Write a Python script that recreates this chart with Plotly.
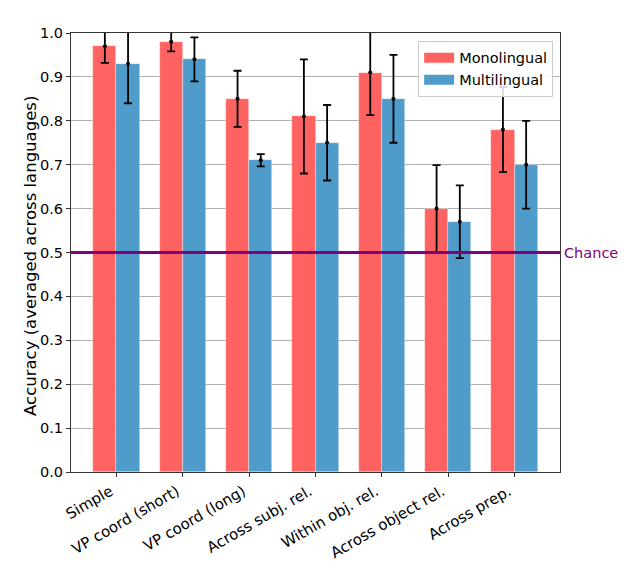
import plotly.graph_objects as go

categories = ["Simple", "VP coord (short)", "VP coord (long)", "Across subj. rel.",
              "Within obj. rel.", "Across object rel.", "Across prep."]
mono = [0.97, 0.98, 0.85, 0.81, 0.91, 0.60, 0.78]
mono_err = [0.038, 0.022, 0.064, 0.13, 0.097, 0.099, 0.097]
multi = [0.93, 0.94, 0.71, 0.75, 0.85, 0.57, 0.70]
multi_err = [0.09, 0.05, 0.014, 0.086, 0.10, 0.083, 0.10]
yticks = [round(0.1 * i, 1) for i in range(11)]
chance = 0.5

RED = "#ff6361"
BLUE = "#4f9cca"
W = 0.35
FONT = "DejaVu Sans"

idx = list(range(len(categories)))
xm = [i - W / 2 for i in idx]
xb = [i + W / 2 for i in idx]

fig = go.Figure()
fig.add_trace(go.Bar(x=xm, y=mono, width=W, name="Monolingual", showlegend=False,
                     marker=dict(color=RED, line=dict(width=0.6, color="rgba(255,255,255,0.6)"))))
fig.add_trace(go.Bar(x=xb, y=multi, width=W, name="Multilingual", showlegend=False,
                     marker=dict(color=BLUE, line=dict(width=0.6, color="rgba(255,255,255,0.6)"))))
for xs, ys, es in [(xm, mono, mono_err), (xb, multi, multi_err)]:
    fig.add_trace(go.Scatter(x=xs, y=ys, mode="markers", showlegend=False,
                             marker=dict(color="black", size=4),
                             error_y=dict(type="data", array=es, visible=True,
                                          color="black", thickness=1.8, width=4)))
# legend entries drawn as wide patches
for name, col in [("Monolingual", RED), ("Multilingual", BLUE)]:
    fig.add_trace(go.Scatter(x=[None], y=[None], mode="lines", name=name,
                             line=dict(color=col, width=11)))

fig.add_shape(type="line", xref="paper", yref="y", x0=0, x1=1, y0=chance, y1=chance,
              line=dict(color="purple", width=3))
fig.add_annotation(xref="paper", yref="y", x=1.004, y=chance, text="Chance",
                   showarrow=False, xanchor="left", yanchor="middle",
                   font=dict(color="purple", size=14.5, family=FONT))
fig.add_annotation(xref="paper", yref="paper", x=-0.084, y=0.492,
                   text="Accuracy (averaged across languages)", textangle=-90,
                   showarrow=False, xanchor="center", yanchor="middle",
                   font=dict(color="black", size=16.5, family=FONT))

# page body has an 8px margin, so the figure is sized to fill the rest of the window
fig.update_layout(
    width=618, height=566,
    margin=dict(l=63, r=66, t=25, b=102, autoexpand=False),
    paper_bgcolor="white", plot_bgcolor="white",
    font=dict(family=FONT, size=14.5, color="black"),
    barmode="overlay", bargap=0,
    legend=dict(x=0.986, y=0.982, xanchor="right", yanchor="top",
                bgcolor="rgba(255,255,255,0.85)", bordercolor="#cccccc", borderwidth=1,
                font=dict(size=14.5, family=FONT), itemwidth=30,
                tracegroupgap=2),
)
fig.update_xaxes(range=[-0.685, 6.685], tickvals=idx, ticktext=categories,
                 tickangle=-30, ticks="outside", ticklen=4, tickcolor="#333",
                 showline=True, linecolor="#333", linewidth=1.2, mirror=True,
                 showgrid=False, zeroline=False, tickfont=dict(size=15), automargin=False,
                 ticklabelshift=-6)
fig.update_yaxes(range=[0, 1.0], tickvals=yticks, ticktext=[f"{v:.1f}" for v in yticks],
                 ticks="outside", ticklen=4, tickcolor="#333",
                 showline=True, linecolor="#333", linewidth=1.2, mirror=True,
                 showgrid=True, gridcolor="#b0b0b0", gridwidth=0.8, zeroline=False,
                 tickfont=dict(size=14.5), automargin=False)

fig.write_html("out.html")
